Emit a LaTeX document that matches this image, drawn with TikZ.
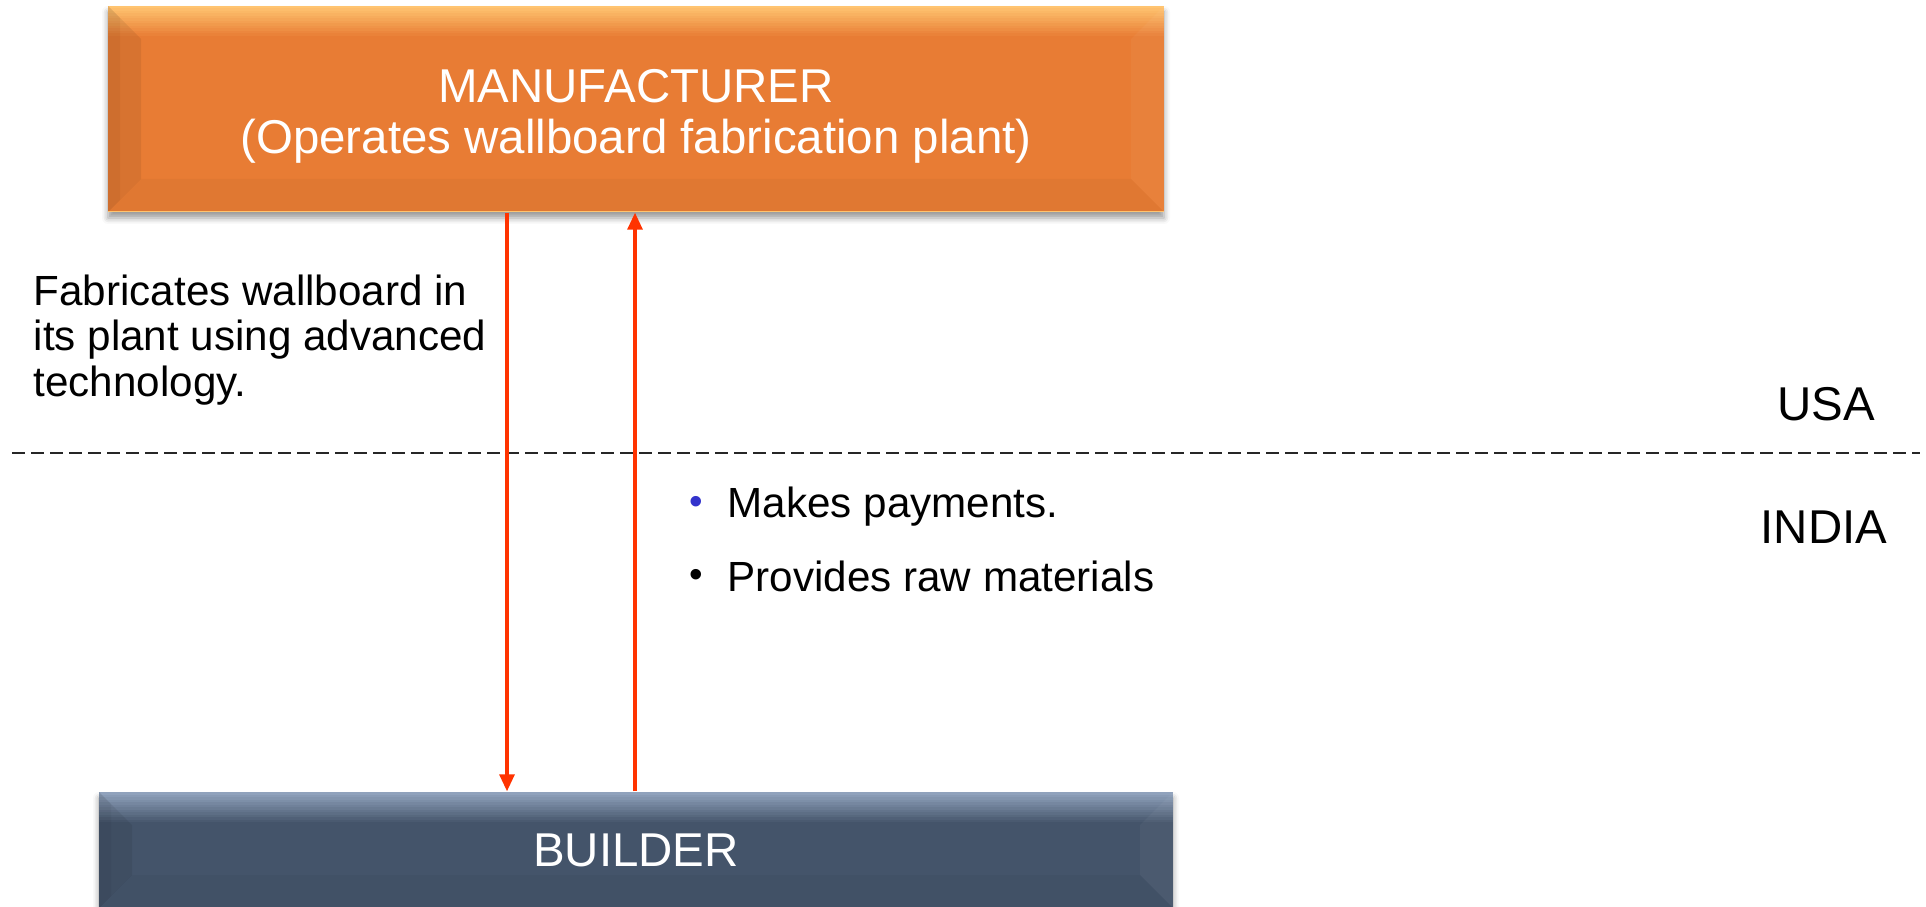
\documentclass[tikz,border=0pt]{standalone}
\usepackage{fontspec}
\setmainfont{Liberation Sans}
\usetikzlibrary{arrows.meta,shadows.blur}
\definecolor{mfrbase}{HTML}{E87C34}
\definecolor{mfrlight}{HTML}{FFC470}
\definecolor{bldbase}{HTML}{44546A}
\definecolor{bldlight}{HTML}{90A2BC}
\definecolor{flowred}{HTML}{FF3300}
\definecolor{dotblue}{HTML}{3333CC}
\begin{document}
\begin{tikzpicture}
[bevelbox/.style 2 args={shape=rectangle,fill=#1,text=white,inner sep=0pt,align=center,%
   font=\fontsize{13.5}{14.6}\selectfont,%
   blur shadow={shadow xshift=0pt,shadow yshift=-0.06cm,shadow blur radius=0.06cm},%
   path picture={
     \coordinate (bnw) at (path picture bounding box.north west);
     \coordinate (bne) at (path picture bounding box.north east);
     \coordinate (bsw) at (path picture bounding box.south west);
     \coordinate (bse) at (path picture bounding box.south east);
     %% top light band
     \foreach \k in {0,...,11} {
       \pgfmathtruncatemacro\pct{100-\k*100/12}
       \fill[#2!\pct!#1] ([yshift=-\k*0.025cm]bnw) rectangle ([yshift=-\k*0.025cm-0.03cm]bne);
     }
     %% bevel sides
     \fill[black,opacity=0.07] (bnw) -- ++(0.33,-0.33) -- ([shift={(0.33,0.33)}]bsw) -- (bsw) -- cycle;
     \fill[black,opacity=0.04] (bnw) -- ++(0.12,-0.12) -- ([shift={(0.12,0.12)}]bsw) -- (bsw) -- cycle;
     \fill[white,opacity=0.04] (bne) -- ++(-0.33,-0.33) -- ([shift={(-0.33,0.33)}]bse) -- (bse) -- cycle;
     \fill[black,opacity=0.03] (bsw) -- ++(0.33,0.33) -- ([shift={(-0.33,0.33)}]bse) -- (bse) -- cycle;
     \draw[#2,line width=0.6pt] (bsw) -- (bse);
   }},
  flowline/.style={flowred,line width=0.9pt,-{Triangle[length=0.17cm,width=0.15cm]}},
  borderline/.style={black!85,line width=0.8pt,dash pattern=on 0.13cm off 0.06cm},
  notetext/.style={font=\fontsize{12}{12.9}\selectfont,align=left,inner sep=0pt},
  regiontext/.style={font=\fontsize{13.5}{15}\selectfont,inner sep=0pt}]
\useasboundingbox (0,0) rectangle (19.26,9.06);
%% boxes
\node (mfr) [bevelbox={mfrbase}{mfrlight},minimum width=10.56cm,minimum height=2.06cm]
  at (6.36,7.97) {\rule{0pt}{0.48cm}MANUFACTURER\\(Operates wallboard fabrication plant)};
\node (bld) [bevelbox={bldbase}{bldlight},minimum width=10.74cm,minimum height=1.16cm]
  at (6.36,0.56) {BUILDER};
%% border between the two countries
\coordinate (borderwest) at (0.12,4.53);
\coordinate (bordereast) at (19.20,4.53);
\draw[borderline] (borderwest) -- (bordereast);
\node (usa) [regiontext] at (18.26,5.02) {USA};
\node (india) [regiontext] at (18.24,3.79) {INDIA};
%% flows
\coordinate (dnx) at (5.07,0);
\coordinate (upx) at (6.35,0);
\draw[flowline] (mfr.south -| dnx) -- (bld.north -| dnx);
\draw[flowline] (bld.north -| upx) -- (mfr.south -| upx);
%% notes
\node (fab) [notetext,anchor=west] at (0.33,5.66)
  {Fabricates wallboard in\\its plant using advanced\\technology.};
\node (pay) [notetext,anchor=west] at (6.88,3.99)
  {\makebox[0.39cm][l]{\hspace{0.01cm}\textcolor{dotblue}{\raisebox{0.08em}{\fontsize{11}{11}\selectfont\textbullet}}}Makes payments.};
\node (raw) [notetext,anchor=west] at (6.88,3.30)
  {\makebox[0.39cm][l]{\hspace{0.01cm}\raisebox{0.08em}{\fontsize{11}{11}\selectfont\textbullet}}Provides raw materials};
\end{tikzpicture}
\end{document}
